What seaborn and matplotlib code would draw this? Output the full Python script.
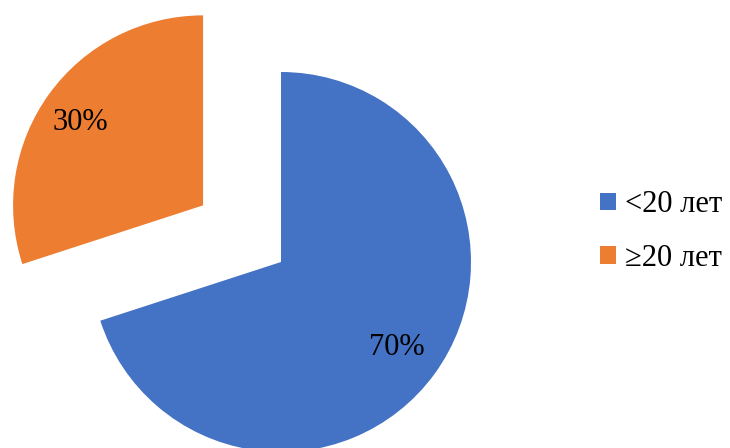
import matplotlib
matplotlib.use("Agg")
import matplotlib.pyplot as plt
import seaborn as sns
import numpy as np
from matplotlib.patches import Patch

# Age groups and their shares (%)
categories = ["<20 лет", "≥20 лет"]
shares = [70, 30]
colors = ["#4472C4", "#ED7D31"]
explode = [0, 0.507]

sns.set_theme(style="white")
plt.rcParams["font.family"] = ["Liberation Serif", "DejaVu Serif"]

fig = plt.figure(figsize=(7.30, 4.48), dpi=100)
ax = fig.add_axes([0, 0, 1, 1])

wedges, texts, autotexts = ax.pie(
    shares,
    colors=colors,
    explode=explode,
    startangle=90,
    counterclock=False,
    radius=1.0,
    autopct="%d%%",
    pctdistance=0.77,
    wedgeprops=dict(linewidth=0),
    textprops=dict(fontsize=22, color="black"),
)

# nudge the percentage labels slightly along each wedge
label_angle_shift = [-0.5, 2.0]
label_dist = [0.76, 0.78]
for w, t, da, d in zip(wedges, autotexts, label_angle_shift, label_dist):
    ang = np.deg2rad((w.theta1 + w.theta2) / 2 + da)
    cx, cy = w.center
    t.set_position((cx + d * np.cos(ang), cy + d * np.sin(ang)))

# pie centre sits at 281 px from the left and 262 px from the top, radius 190 px
px = 190.0
ax.set_xlim(-281 / px, (730 - 281) / px)
ax.set_ylim((262 - 448) / px, 262 / px)
ax.set_aspect("auto")
ax.axis("off")

handles = [Patch(facecolor=c, edgecolor="none") for c in colors]
fig.legend(
    handles,
    categories,
    loc="center left",
    bbox_to_anchor=(0.822, 0.483),
    frameon=False,
    fontsize=22,
    labelcolor="black",
    borderpad=0,
    borderaxespad=0,
    handlelength=0.52,
    handleheight=0.52,
    handletextpad=0.3,
    labelspacing=0.8,
)

fig.savefig("out.png", dpi=100, facecolor="white")
